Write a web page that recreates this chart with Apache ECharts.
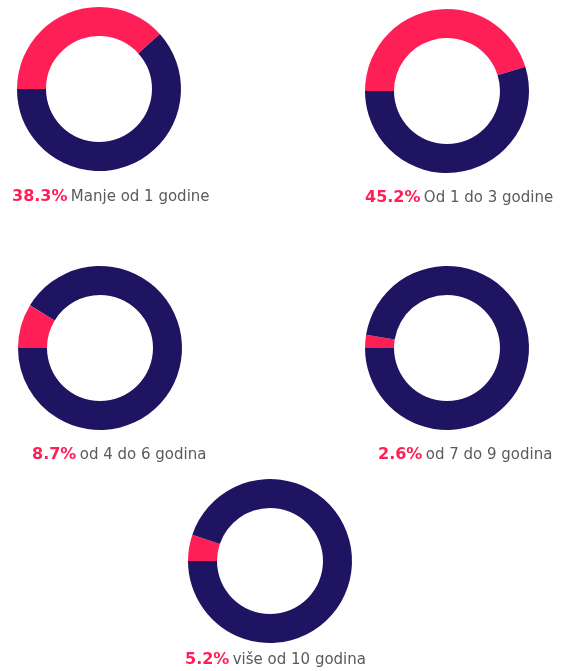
<!DOCTYPE html>
<html>
<head>
<meta charset="utf-8">
<script src="https://cdn.jsdelivr.net/npm/echarts@6/dist/echarts.min.js"></script>
<style>
html,body{margin:0;padding:0;background:#fff;}
#chart{width:567px;height:671px;}
</style>
</head>
<body>
<div id="chart"></div>
<script>
const categories = ['Manje od 1 godine', 'Od 1 do 3 godine', 'od 4 do 6 godina', 'od 7 do 9 godina', 'više od 10 godina'];
const percents = [38.3, 45.2, 8.7, 2.6, 5.2];
const percentLabels = ['38.3%', '45.2%', '8.7%', '2.6%', '5.2%'];

const PINK = '#ff1f57';
const NAVY = '#1f1462';

const centers = [[99, 89], [447, 91], [100, 348], [447, 348], [270, 561]];
const labelPos = [[12, 197], [365, 198], [32, 455], [378, 455], [185, 660]];

const chart = echarts.init(document.getElementById('chart'));

const series = percents.map((p, i) => ({
  type: 'pie',
  center: centers[i],
  radius: [53, 82],
  startAngle: 180,
  clockwise: true,
  silent: true,
  label: { show: false },
  labelLine: { show: false },
  itemStyle: { borderWidth: 0 },
  emphasis: { disabled: true },
  data: [
    { value: p, name: categories[i], itemStyle: { color: PINK } },
    { value: 100 - p, name: 'other', itemStyle: { color: NAVY } }
  ]
}));

const graphic = percents.map((p, i) => ({
  type: 'text',
  x: labelPos[i][0],
  y: labelPos[i][1],
  style: {
    text: '{p|' + percentLabels[i] + '} {t|' + categories[i] + '}',
    verticalAlign: 'middle',
    rich: {
      p: { fontFamily: 'DejaVu Sans', fontWeight: 'bold', fontSize: 16, fill: PINK, color: PINK },
      t: { fontFamily: 'DejaVu Sans', fontSize: 15, fill: '#5a5a5a', color: '#5a5a5a' }
    }
  }
}));

chart.setOption({
  backgroundColor: '#ffffff',
  animation: false,
  series: series,
  graphic: graphic
});
</script>
</body>
</html>
